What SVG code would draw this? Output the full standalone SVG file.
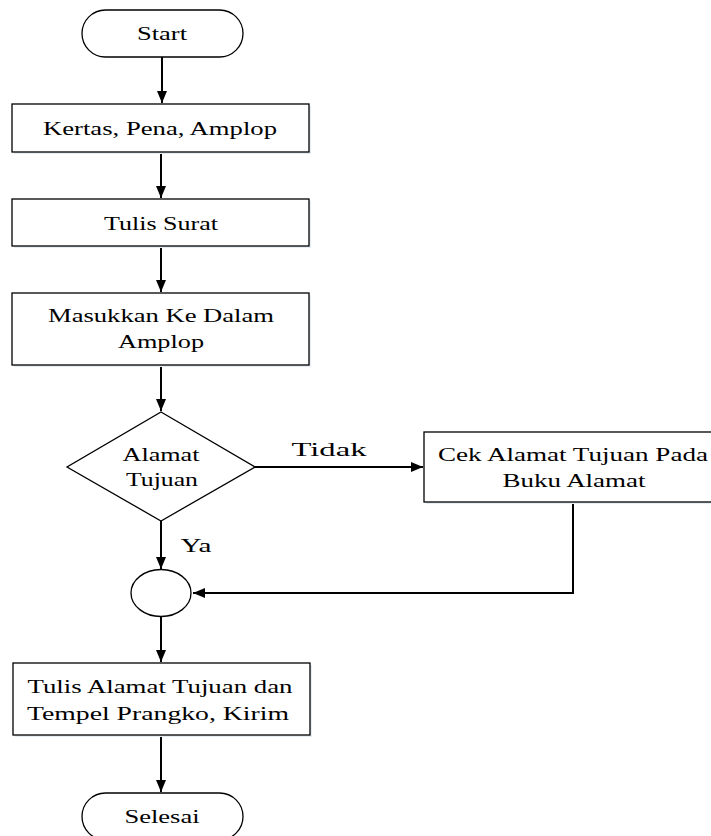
<svg xmlns="http://www.w3.org/2000/svg" width="711" height="836" viewBox="0 0 711 836">
<defs>
<style>
.shape{fill:#ffffff;stroke:#000000;stroke-width:1.3}
.shadow{fill:#e6edf5;stroke:none}
.t{font-family:"Liberation Serif","Times New Roman",serif;font-size:19px;fill:#000000;text-anchor:middle}
.c{fill:none;stroke:#000000;stroke-width:2}
</style>
<marker id="ah" viewBox="0 0 12 10" refX="12" refY="5" markerWidth="12" markerHeight="10" markerUnits="userSpaceOnUse" orient="auto">
<path d="M0,0 L12,5 L0,10 Z" fill="#000000"/>
</marker>
</defs>
<rect width="711" height="836" fill="#ffffff"/>
<g id="connectors">
<line class="c" x1="162" y1="57" x2="162" y2="103" marker-end="url(#ah)"/>
<line class="c" x1="161" y1="152" x2="161" y2="198" marker-end="url(#ah)"/>
<line class="c" x1="161" y1="246" x2="161" y2="292" marker-end="url(#ah)"/>
<line class="c" x1="161" y1="365" x2="161" y2="411" marker-end="url(#ah)"/>
<line class="c" x1="255" y1="467" x2="423" y2="467" marker-end="url(#ah)"/>
<polyline class="c" points="573,502 573,593 193,593" marker-end="url(#ah)"/>
<line class="c" x1="161" y1="521" x2="161" y2="569" marker-end="url(#ah)"/>
<line class="c" x1="161" y1="617" x2="161" y2="662" marker-end="url(#ah)"/>
<line class="c" x1="161" y1="735" x2="161" y2="792" marker-end="url(#ah)"/>
<text class="t" x="329" y="456" textLength="75" lengthAdjust="spacingAndGlyphs">Tidak</text>
<text class="t" x="196" y="552" textLength="31" lengthAdjust="spacingAndGlyphs">Ya</text>
</g>
<g id="start">
<rect class="shape" x="82" y="10" width="161" height="47" rx="23.5"/>
<text class="t" x="162" y="40" textLength="50" lengthAdjust="spacingAndGlyphs">Start</text>
</g>
<g id="kertas">
<rect class="shadow" x="14" y="106" width="297" height="48"/>
<rect class="shape" x="12" y="104" width="297" height="48"/>
<text class="t" x="160" y="135" textLength="234" lengthAdjust="spacingAndGlyphs">Kertas, Pena, Amplop</text>
</g>
<g id="tulis-surat">
<rect class="shadow" x="14" y="201" width="297" height="47"/>
<rect class="shape" x="12" y="199" width="297" height="47"/>
<text class="t" x="161" y="230" textLength="114" lengthAdjust="spacingAndGlyphs">Tulis Surat</text>
</g>
<g id="masukkan">
<rect class="shadow" x="14" y="295" width="297" height="72"/>
<rect class="shape" x="12" y="293" width="297" height="72"/>
<text class="t" x="161" y="322" textLength="226" lengthAdjust="spacingAndGlyphs">Masukkan Ke Dalam</text>
<text class="t" x="161" y="348" textLength="86" lengthAdjust="spacingAndGlyphs">Amplop</text>
</g>
<g id="alamat-tujuan">
<polygon class="shape" points="161,412 255,467 161,521 67,467"/>
<text class="t" x="161" y="461" textLength="77" lengthAdjust="spacingAndGlyphs">Alamat</text>
<text class="t" x="162" y="486" textLength="72" lengthAdjust="spacingAndGlyphs">Tujuan</text>
</g>
<g id="cek-alamat">
<rect class="shadow" x="426" y="434" width="297" height="70"/>
<rect class="shape" x="424" y="432" width="297" height="70"/>
<text class="t" x="573" y="461" textLength="270" lengthAdjust="spacingAndGlyphs">Cek Alamat Tujuan Pada</text>
<text class="t" x="574" y="487" textLength="143" lengthAdjust="spacingAndGlyphs">Buku Alamat</text>
</g>
<g id="connector-node">
<ellipse class="shape" cx="161" cy="593" rx="30" ry="23.5"/>
</g>
<g id="tulis-alamat">
<rect class="shadow" x="15" y="665" width="297" height="72"/>
<rect class="shape" x="13" y="663" width="297" height="72"/>
<text class="t" x="160" y="693" textLength="265" lengthAdjust="spacingAndGlyphs">Tulis Alamat Tujuan dan</text>
<text class="t" x="158" y="720" textLength="262" lengthAdjust="spacingAndGlyphs">Tempel Prangko, Kirim</text>
</g>
<g id="selesai">
<rect class="shape" x="82" y="793" width="161" height="47" rx="23.5"/>
<text class="t" x="162" y="823" textLength="75" lengthAdjust="spacingAndGlyphs">Selesai</text>
</g>
</svg>
